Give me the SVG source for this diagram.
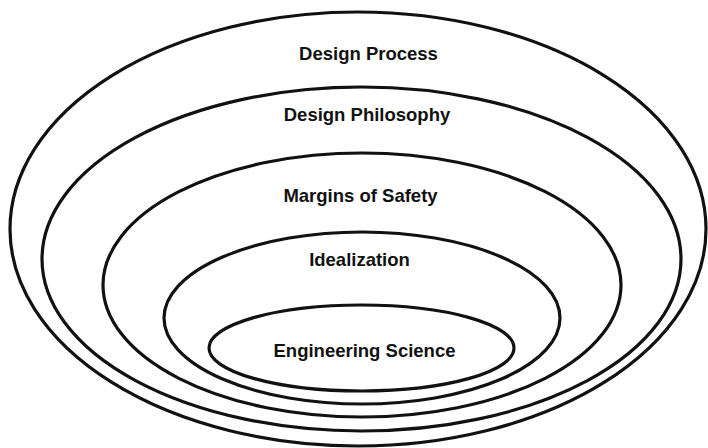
<svg xmlns="http://www.w3.org/2000/svg" width="708" height="448" viewBox="0 0 708 448">
<style>
.ring{fill:none;stroke:#111;stroke-width:3.2}
.lbl{font-family:"Liberation Sans",Arial,sans-serif;font-weight:bold;font-size:18.5px;fill:#111;text-anchor:middle}
</style>
<rect width="708" height="448" fill="#fff"/>
<g id="design-process"><ellipse class="ring" cx="358" cy="229" rx="348" ry="217"/><text class="lbl" x="368.5" y="60">Design Process</text></g>
<g id="design-philosophy"><ellipse class="ring" cx="361.5" cy="259" rx="319.5" ry="172"/><text class="lbl" x="367" y="120.5">Design Philosophy</text></g>
<g id="margins-of-safety"><ellipse class="ring" cx="362" cy="285" rx="259" ry="132"/><text class="lbl" x="360.5" y="201.5">Margins of Safety</text></g>
<g id="idealization"><ellipse class="ring" cx="362" cy="318" rx="198" ry="86"/><text class="lbl" x="359.5" y="265.5">Idealization</text></g>
<g id="engineering-science"><ellipse class="ring" cx="361.5" cy="348" rx="152.5" ry="43"/><text class="lbl" x="364.5" y="356.5">Engineering Science</text></g>
<g id="connectors"/>
</svg>
